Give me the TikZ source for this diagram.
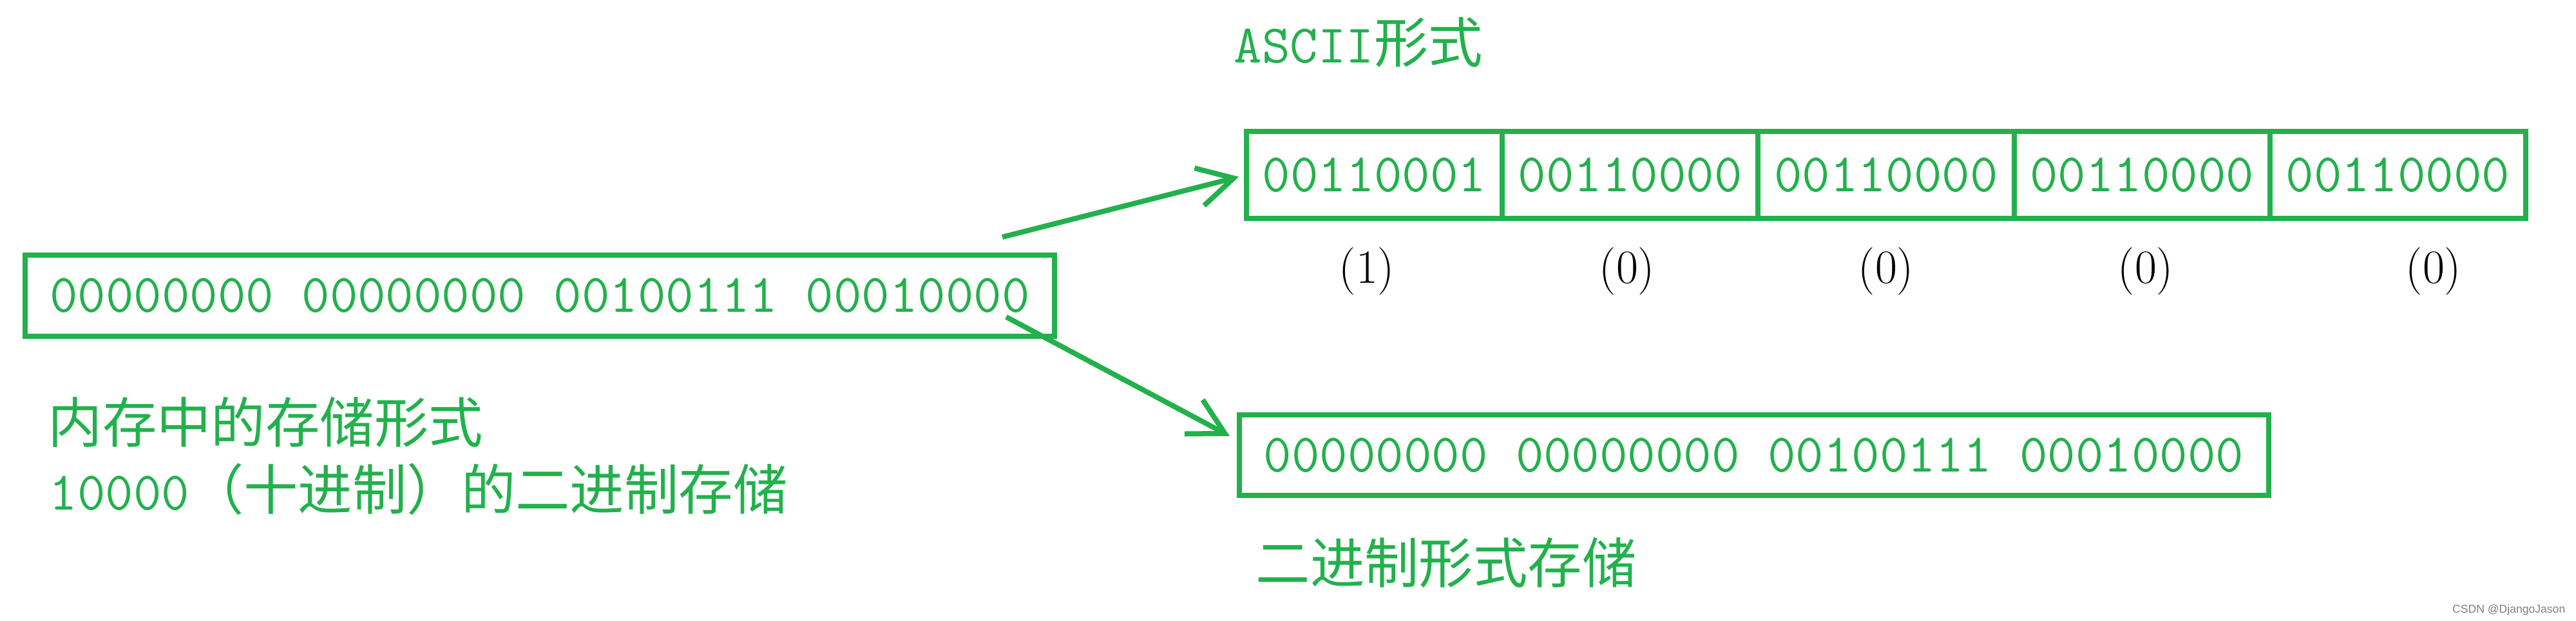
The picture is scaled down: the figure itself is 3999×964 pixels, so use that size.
\documentclass[tikz,border=0pt]{standalone}
\usepackage{fontspec}
\usepackage{xcolor}
\usetikzlibrary{positioning}
\usetikzlibrary{arrows.meta}
\newfontfamily\cjk{Noto Sans CJK SC}
\newfontfamily\wmfont{Liberation Sans}
\definecolor{paintgreen}{RGB}{34,177,76}

\tikzset{
	box/.style={draw=paintgreen,line width=0.08cm,minimum width=15.97cm,minimum height=1.25cm,inner sep=0pt,text=paintgreen,font=\fontsize{24}{28}\selectfont\ttfamily},
	cell/.style={draw=paintgreen,line width=0.08cm,minimum width=3.97cm,minimum height=1.35cm,inner sep=0pt,outer sep=0pt,text=paintgreen,font=\fontsize{24}{28}\selectfont\ttfamily},
	caption/.style={anchor=west,inner sep=0pt,text=paintgreen,font=\fontsize{24}{28}\selectfont\cjk},
	arr/.style={draw=paintgreen,line width=0.08cm,-{Straight Barb[length=0.55cm,width=0.6cm]},shorten >=0.12cm}
}

\begin{document}
\begin{tikzpicture}[x=0.01cm,y=-0.01cm]
		  \useasboundingbox (0,0) rectangle (3999,964);
		  \node[box] (mem) at (838,459) {00000000 00000000 00100111 00010000};
		  \node[caption] (memlbl) at (74,656) {内存中的存储形式};
		  \node[caption] (declbl) at (76,759) {{\ttfamily 10000}（十进制）的二进制存储};
		  \node[cell] (c1) at (2133.5,271.5) {00110001};
		  \foreach \prev/\name in {c1/c2,c2/c3,c3/c4,c4/c5}{
		  	\node[cell,right=0pt of \prev] (\name) {00110000};
		  }
		  \foreach \x/\digit in {
		  		2122/1,
		  		2526/0,
		  		2928/0,
		  		3331/0,
		  		3778/0%
		  }{
		  	\node[font=\fontsize{21}{25}\selectfont] (d\x) at (\x,421) {(\digit)};
		  }
		  \node[caption] (asciilbl) at (1915,66) {{\ttfamily ASCII}形式};
		  \node[box] (bin) at (2722.5,706.5) {00000000 00000000 00100111 00010000};
		  \node[caption] (binlbl) at (1949,874) {二进制形式存储};
		  \coordinate (upfrom) at (1556,368);
		  \coordinate (downfrom) at (1562,492);
		  \draw[arr] (upfrom) -- (c1.west);
		  \draw[arr] (downfrom) -- ([yshift=0.24cm]bin.west);
		  \node[anchor=east,inner sep=0pt,text=gray,font=\fontsize{5}{6}\selectfont\wmfont] (wm) at (3983,947) {CSDN @DjangoJason};
\end{tikzpicture}
\end{document}
